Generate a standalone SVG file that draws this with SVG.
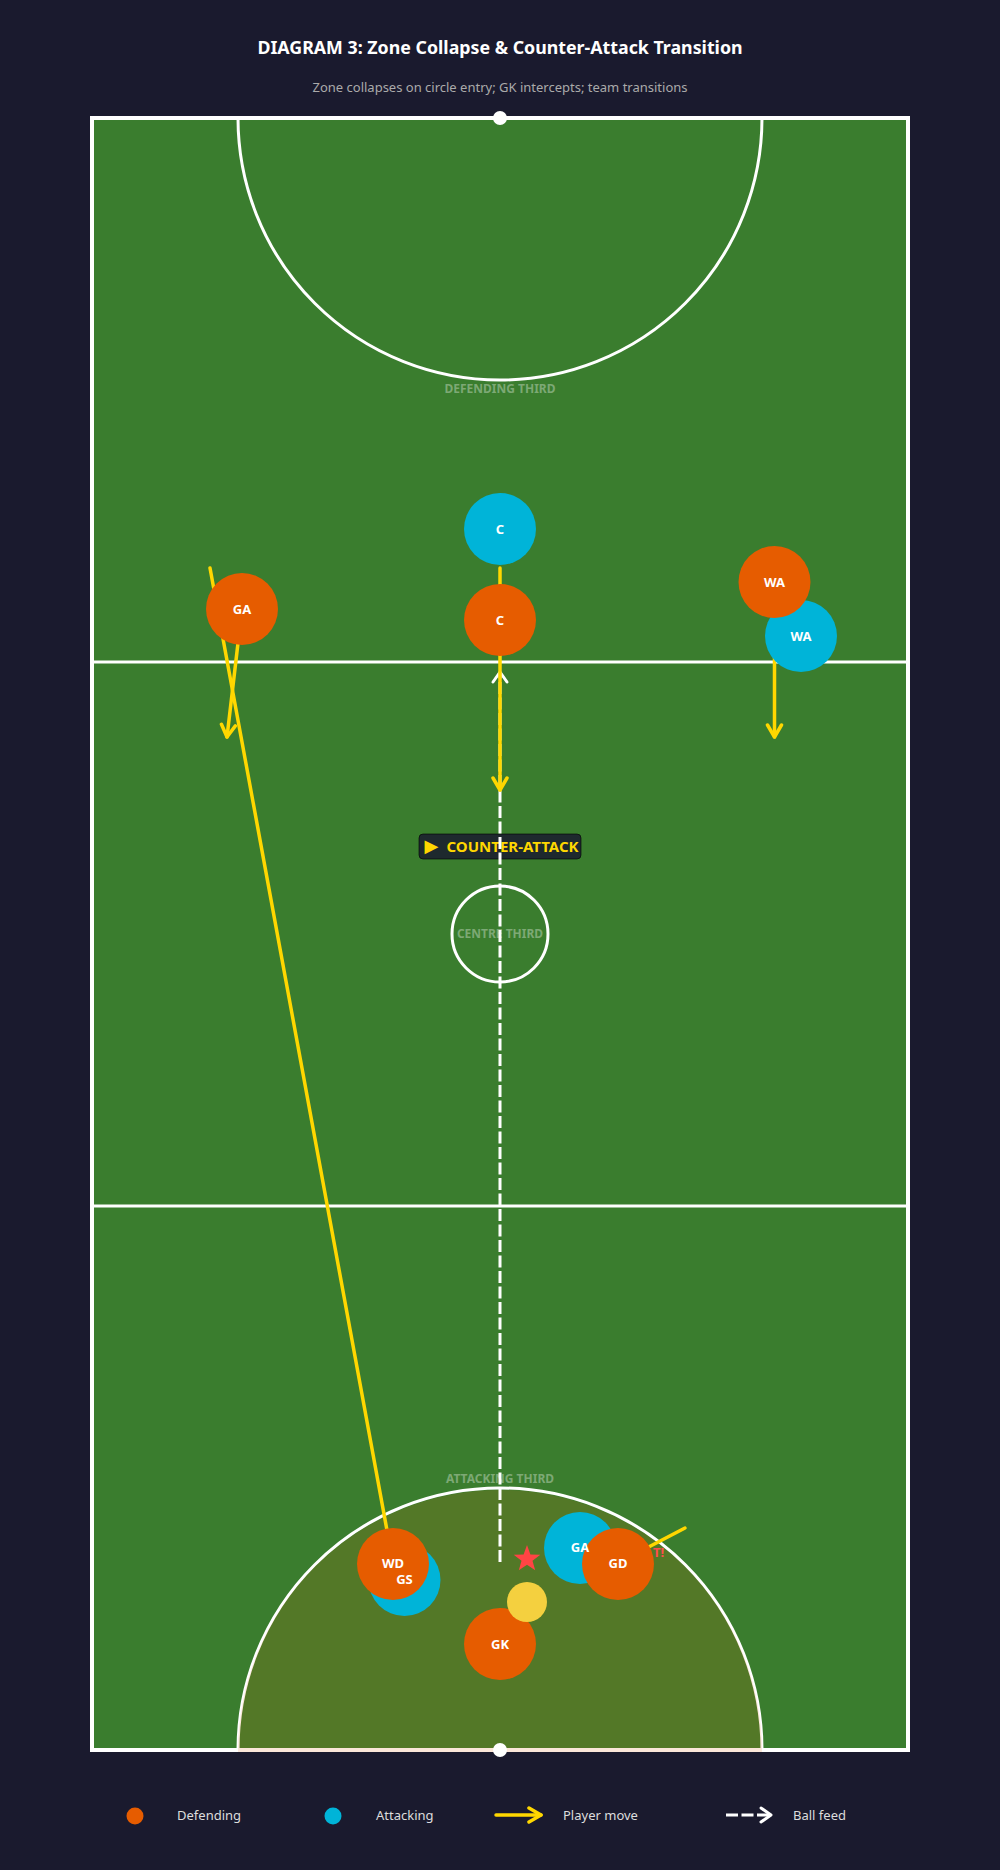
<svg xmlns="http://www.w3.org/2000/svg" width="1000" height="1870" viewBox="0 0 1000 1870">
  <defs>
    <style>
      .title { font-family: "Noto Sans", "Open Sans", sans-serif; font-weight: bold; font-size: 17.8px; fill: #ffffff; }
      .sub { font-family: "Noto Sans", "Open Sans", sans-serif; font-size: 13px; fill: #aaaaaa; }
      .zone { font-family: "Noto Sans", "Open Sans", sans-serif; font-weight: bold; font-size: 12px; fill: #ffffff; fill-opacity: 0.35; }
      .pl { font-family: "Noto Sans", "Open Sans", sans-serif; font-weight: bold; font-size: 13px; fill: #ffffff; }
      .leg { font-family: "Noto Sans", "Open Sans", sans-serif; font-size: 13px; fill: #dddddd; }
      .line { stroke: #ffffff; stroke-width: 3; fill: none; }
      .move { stroke: #ffd700; stroke-width: 3.5; fill: none; stroke-linecap: round; }
      .feed { stroke: #ffffff; stroke-width: 3; fill: none; stroke-dasharray: 12 3.5; }
      .def { fill: #e65c00; }
      .att { fill: #00b4d8; }
    </style>
    <marker id="ym" markerUnits="userSpaceOnUse" markerWidth="20" markerHeight="20" refX="14" refY="10" orient="auto">
      <path d="M2,3 L14,10 L2,17" fill="none" stroke="#ffd700" stroke-width="3.5" stroke-linecap="round" stroke-linejoin="round"/>
    </marker>
    <marker id="wm" markerUnits="userSpaceOnUse" markerWidth="20" markerHeight="20" refX="13" refY="10" orient="auto">
      <path d="M3,3 L13,10 L3,17" fill="none" stroke="#ffffff" stroke-width="3" stroke-linecap="round" stroke-linejoin="round"/>
    </marker>
  </defs>

  <rect x="0" y="0" width="1000" height="1870" fill="#1a1a2e"/>

  <text class="title" x="500" y="54" text-anchor="middle">DIAGRAM 3: Zone Collapse &amp; Counter-Attack Transition</text>
  <text class="sub" x="500" y="92" text-anchor="middle">Zone collapses on circle entry; GK intercepts; team transitions</text>

  <g id="court">
    <rect x="92" y="118" width="816" height="1632" fill="#3a7d2e" stroke="#ffffff" stroke-width="4"/>
    <line class="line" x1="92" y1="662" x2="908" y2="662"/>
    <line class="line" x1="92" y1="1206" x2="908" y2="1206"/>
    <path class="line" d="M238,118 A262,262 0 0 0 762,118"/>
    <path class="line" d="M238,1750 A262,262 0 0 1 762,1750"/>
    <circle class="line" cx="500" cy="934" r="48"/>
    <path d="M238,1752 A262,262 0 0 1 762,1752 Z" fill="#e65c00" fill-opacity="0.15"/>
    <circle cx="500" cy="118" r="7" fill="#ffffff"/>
    <circle cx="500" cy="1750" r="7" fill="#ffffff"/>
    <text class="zone" x="500" y="393" text-anchor="middle">DEFENDING THIRD</text>
    <text class="zone" x="500" y="938" text-anchor="middle">CENTRE THIRD</text>
    <text class="zone" x="500" y="1483" text-anchor="middle">ATTACKING THIRD</text>
  </g>

  <g id="counter-attack-label">
    <rect x="419" y="834" width="162" height="25" rx="4" fill="#1a1a2e" fill-opacity="0.85" stroke="#000000" stroke-opacity="0.6" stroke-width="1"/>
    <text y="851.5" font-family="'Noto Sans', 'DejaVu Sans', sans-serif" font-weight="bold" font-size="15" fill="#ffd700"><tspan x="424.5" font-size="18" y="852">▶</tspan><tspan x="446.5" y="851.5">COUNTER-ATTACK</tspan></text>
  </g>

  <g id="connectors">
    <line class="feed" x1="500" y1="1562" x2="500" y2="672" marker-end="url(#wm)"/>
    <line class="move" x1="500" y1="568" x2="500" y2="790" marker-end="url(#ym)"/>
    <line class="move" x1="210" y1="568" x2="393" y2="1563" marker-end="url(#ym)"/>
    <line class="move" x1="242" y1="609" x2="227" y2="737" marker-end="url(#ym)"/>
    <line class="move" x1="774.5" y1="582" x2="774.5" y2="737" marker-end="url(#ym)"/>
    <line class="move" x1="685" y1="1528" x2="618" y2="1563" marker-end="url(#ym)"/>
  </g>

  <text id="intercept-label" x="653" y="1557" font-family="'Noto Sans', sans-serif" font-weight="bold" font-size="13" fill="#ff4d4d">T!</text>

  <g id="players">
    <g id="att-C"><circle class="att" cx="500" cy="529" r="36"/></g>
    <g id="def-C"><circle class="def" cx="500" cy="620" r="36"/></g>
    <g id="def-GA"><circle class="def" cx="242" cy="609" r="36"/></g>
    <g id="att-WA"><circle class="att" cx="801" cy="636" r="36"/></g>
    <g id="def-WA"><circle class="def" cx="774.5" cy="582" r="36"/></g>
    <g id="att-GS"><circle class="att" cx="404.5" cy="1580" r="36"/></g>
    <g id="def-WD"><circle class="def" cx="393" cy="1564" r="36"/></g>
    <g id="att-GA"><circle class="att" cx="580" cy="1548" r="36"/></g>
    <g id="def-GD"><circle class="def" cx="618" cy="1564" r="36"/></g>
    <g id="def-GK"><circle class="def" cx="500" cy="1644" r="36"/></g>
    <g id="ball"><circle cx="527" cy="1602" r="20" fill="#f4d03f"/></g>
    <g id="intercept-star"><polygon points="527,1545 530.4,1554.4 540.3,1554.7 532.5,1560.8 535.2,1570.3 527,1564.7 518.8,1570.3 521.5,1560.8 513.7,1554.7 523.6,1554.4" fill="#ff4444"/></g>
  </g>

  <g id="player-labels">
    <text class="pl" x="500" y="533.5" text-anchor="middle">C</text>
    <text class="pl" x="500" y="624.5" text-anchor="middle">C</text>
    <text class="pl" x="242" y="613.5" text-anchor="middle">GA</text>
    <text class="pl" x="801" y="640.5" text-anchor="middle">WA</text>
    <text class="pl" x="774.5" y="586.5" text-anchor="middle">WA</text>
    <text class="pl" x="393" y="1568" text-anchor="middle">WD</text>
    <text class="pl" x="404.5" y="1584" text-anchor="middle">GS</text>
    <text class="pl" x="580" y="1552" text-anchor="middle">GA</text>
    <text class="pl" x="618" y="1568" text-anchor="middle">GD</text>
    <text class="pl" x="500" y="1648.5" text-anchor="middle">GK</text>
  </g>

  <g id="legend">
    <circle class="def" cx="135" cy="1816" r="8.5"/>
    <text class="leg" x="177" y="1820">Defending</text>
    <circle class="att" cx="333" cy="1816" r="8.5"/>
    <text class="leg" x="376" y="1820">Attacking</text>
    <line class="move" x1="496" y1="1815" x2="541" y2="1815" stroke-linecap="butt" marker-end="url(#ym)"/>
    <text class="leg" x="563" y="1820">Player move</text>
    <line class="feed" x1="726" y1="1815" x2="771" y2="1815" marker-end="url(#wm)"/>
    <text class="leg" x="793" y="1820">Ball feed</text>
  </g>
</svg>
